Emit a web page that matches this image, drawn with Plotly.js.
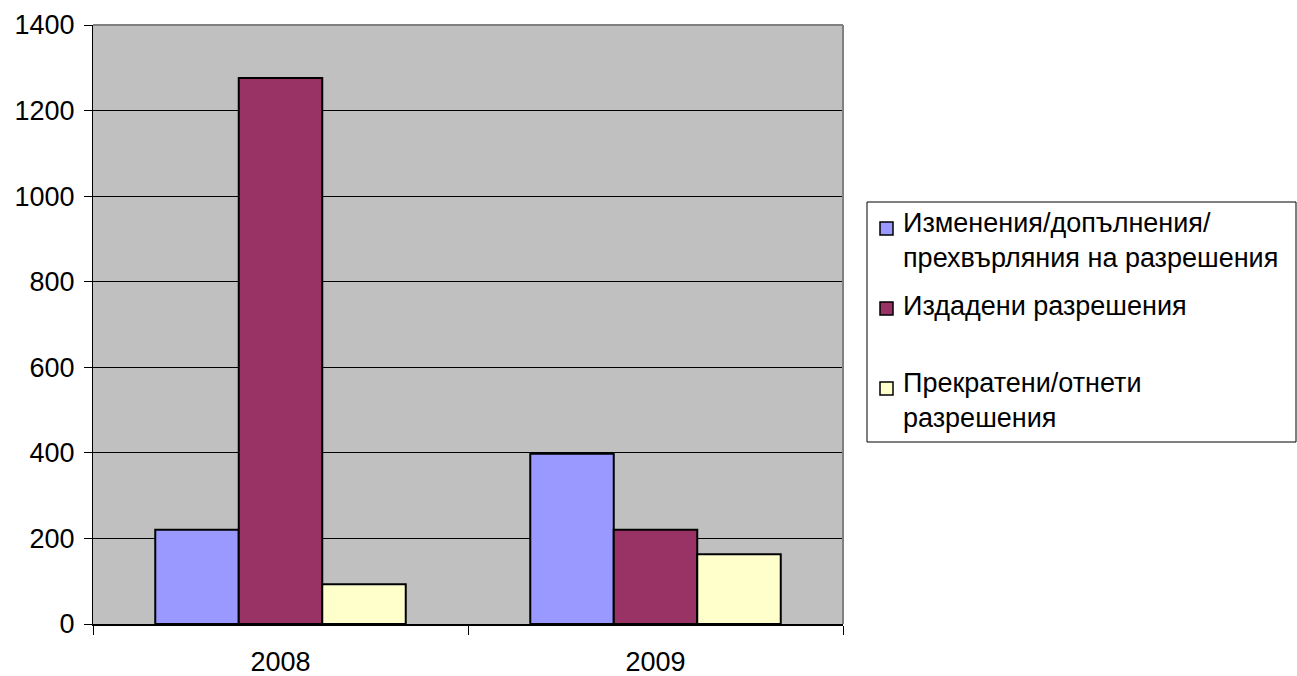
<!DOCTYPE html>
<html>
<head>
<meta charset="utf-8">
<script src="https://cdn.plot.ly/plotly-3.0.1.min.js"></script>
<style>html,body{margin:0;padding:0;background:#fff;}#chart{width:1297px;height:676px;}</style>
</head>
<body>
<div id="chart"></div>
<script>
const years = ['2008', '2009'];
const seriesNames = [
  ['Изменения/допълнения/', 'прехвърляния на разрешения'],
  ['Издадени разрешения'],
  ['Прекратени/отнети', 'разрешения']
];
const changes = [220, 398];
const issued = [1276, 220];
const revoked = [93, 163];
const colors = ['#9999ff', '#993366', '#ffffcc'];
const yTicks = [0, 200, 400, 600, 800, 1000, 1200, 1400];

const W = 1297, H = 676;
const m = {l: 93, r: 454, t: 25, b: 52};
const pw = W - m.l - m.r, ph = H - m.t - m.b;
const px = x => (x - m.l) / pw;
const py = y => (H - m.b - y) / ph;

const FONT = 'Liberation Sans, Arial, sans-serif';
const values = [changes, issued, revoked];
const traces = values.map((v, i) => ({
  type: 'bar', x: years, y: v, name: seriesNames[i].join(' '),
  marker: {color: colors[i], line: {color: '#000', width: 2}},
  hoverinfo: 'x+y', showlegend: false
}));

const shapes = [
  {type: 'line', xref: 'paper', yref: 'paper', x0: 0, x1: 1, y0: 1, y1: 1, line: {color: '#808080', width: 2}},
  {type: 'line', xref: 'paper', yref: 'paper', x0: 1, x1: 1, y0: 0, y1: 1, line: {color: '#808080', width: 2}},
  {type: 'rect', xref: 'paper', yref: 'paper', x0: px(867), x1: px(1296), y0: py(442), y1: py(202), line: {color: '#000', width: 1}, fillcolor: 'rgba(0,0,0,0)'}
];
const annotations = [];
const legendRows = [
  {sq: 222, center: 240},
  {sq: 302, center: 306},
  {sq: 382, center: 401}
];
legendRows.forEach((r, i) => {
  shapes.push({type: 'rect', xref: 'paper', yref: 'paper', x0: px(880), x1: px(893), y0: py(r.sq + 13), y1: py(r.sq), line: {color: '#000', width: 1.5}, fillcolor: colors[i]});
  annotations.push({xref: 'paper', yref: 'paper', x: px(901), y: py(r.center), xanchor: 'left', yanchor: 'middle', align: 'left',
    text: seriesNames[i].join('<br>'), showarrow: false, font: {family: FONT, size: 27, color: '#000'}});
});

const layout = {
  width: W, height: H,
  margin: m,
  paper_bgcolor: '#fff', plot_bgcolor: '#c0c0c0',
  barmode: 'group', bargap: 0.332, bargroupgap: 0,
  font: {family: FONT, size: 27, color: '#000'},
  xaxis: {type: 'category', tickson: 'boundaries', ticks: 'outside', ticklen: 9, tickcolor: '#000', tickwidth: 1,
          showline: true, linecolor: '#000', linewidth: 1.5, showgrid: false, tickfont: {family: FONT, size: 27},
          ticklabelstandoff: 13},
  yaxis: {range: [0, 1400], tickvals: yTicks, ticktext: yTicks.map(String), ticks: 'outside', ticklen: 8, tickcolor: '#000',
          showline: true, linecolor: '#000', linewidth: 1, showgrid: true, gridcolor: '#000', gridwidth: 1, zeroline: false,
          tickfont: {family: FONT, size: 27}, ticklabelstandoff: 4},
  shapes: shapes, annotations: annotations, showlegend: false
};
Plotly.newPlot('chart', traces, layout, {displayModeBar: false, staticPlot: true});
</script>
</body>
</html>
